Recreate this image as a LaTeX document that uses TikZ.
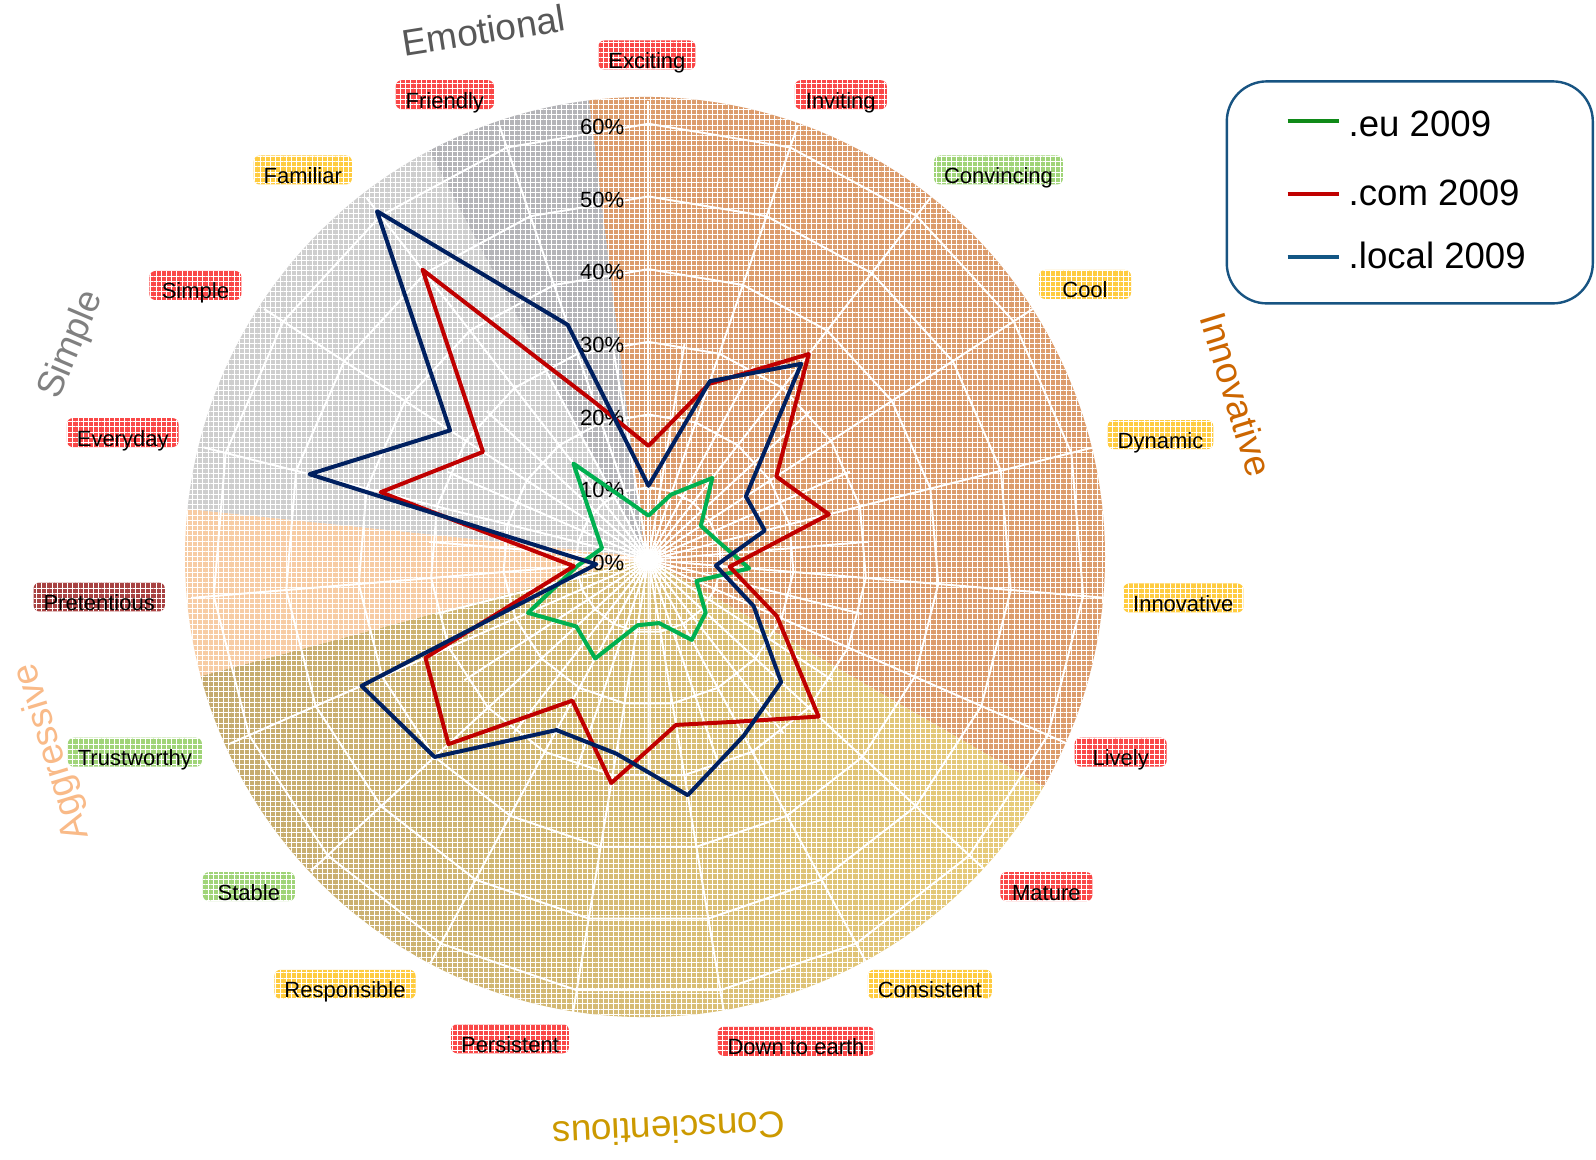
\documentclass[tikz,border=0pt]{standalone}
\usepackage{fontspec}
\setmainfont{Liberation Sans}
\usetikzlibrary{patterns.meta}

\definecolor{innovfill}{RGB}{220,156,108}
\definecolor{consleft}{RGB}{196,170,110}
\definecolor{consright}{RGB}{232,204,122}
\definecolor{aggrfill}{RGB}{247,204,164}
\definecolor{simplefill}{RGB}{206,206,206}
\definecolor{emofill}{RGB}{180,180,184}
\definecolor{tagred}{RGB}{250,72,72}
\definecolor{tagyellow}{RGB}{255,204,64}
\definecolor{taggreen}{RGB}{160,212,120}
\definecolor{tagdark}{RGB}{168,66,66}
\definecolor{eucol}{RGB}{0,176,80}
\definecolor{comcol}{RGB}{192,0,0}
\definecolor{localcol}{RGB}{0,32,96}
\definecolor{keygreen}{RGB}{16,138,24}
\definecolor{keyblue}{RGB}{18,86,132}
\definecolor{legendframe}{RGB}{24,84,130}
\definecolor{emotext}{RGB}{88,88,88}
\definecolor{simpletext}{RGB}{128,128,128}
\definecolor{aggrtext}{RGB}{249,186,136}
\definecolor{consctext}{RGB}{204,153,0}
\definecolor{innovtext}{RGB}{204,102,0}

\newcommand{\tagtext}[1]{\raisebox{-4pt}{#1}}
\newcommand{\catfont}{\fontsize{18.5}{18.5}\selectfont}

\tikzset{
	texture/.style={pattern={Hatch[distance=2.6pt,line width=0.5pt]}, pattern color=white, fill opacity=0.3},
	tagtexture/.style={pattern={Hatch[distance=2.6pt,line width=0.4pt]}, pattern color=white, fill opacity=0.15},
	gridline/.style={white, line width=1pt},
	series/.style={line width=2pt, line join=round},
	tag/.style={rounded corners=3pt, minimum width=46pt, minimum height=14.5pt, inner xsep=5pt, inner ysep=0pt, text height=10pt, text depth=4.5pt, font=\fontsize{11}{11}\selectfont, postaction={tagtexture}},
	pct/.style={anchor=east, inner sep=0pt, font=\fontsize{11}{11}\selectfont},
	keyline/.style={line width=2pt},
	keytext/.style={anchor=west, inner sep=0pt, text height=0.72em, text depth=0pt, font=\fontsize{18.3}{18.3}\selectfont},
	category/.style={inner sep=0pt, font=\catfont}
}

\begin{document}
\begin{tikzpicture}[x=0.5pt, y=0.5pt]
	\useasboundingbox (-648.5,-600) rectangle (947.5,560);
	\fill [white] (-648.5,-600) rectangle (947.5,560);

	\begin{scope}[shift={(-3.5,3)}]
		\fill [innovfill] (0,0) -- (97:460) arc [start angle=97, end angle=-30, radius=460] -- cycle;
		\shade [left color=consleft, right color=consright] (0,0) -- (-30:460) arc [start angle=-30, end angle=-165, radius=460] -- cycle;
		\fill [aggrfill] (0,0) -- (-165:460) arc [start angle=-165, end angle=-186, radius=460] -- cycle;
		\fill [simplefill] (0,0) -- (174:460) arc [start angle=174, end angle=118, radius=460] -- cycle;
		\fill [emofill] (0,0) -- (118:460) arc [start angle=118, end angle=97, radius=460] -- cycle;
		\fill [texture] (0,0) circle [radius=460];
	\end{scope}

	\foreach \k in {0,...,18}
		\draw [gridline] (0,0) -- ({90-18.947*\k}:459);
	\foreach \k in {0,...,18}
		\draw [gridline] (0,0) -- ({80.53-18.947*\k}:220);
	\foreach \r in {1,...,6}
		\draw [gridline] (90:{\r*72.7}) \foreach \k in {1,...,18} { -- ({90-18.947*\k}:{\r*72.7}) } -- cycle;

	\foreach \p in {0,10,...,60}
		\node [pct] (pct\p) at (-24,{\p*7.27-3}) {\p\%};

	\foreach \v [count=\k from 0] in {6.1,9.5,14.3,8.6,10,13.9,7.2,10.7,12.5,8.8,9.1,15.4,13.5,18.1,9.8,6.6,9,16.8,8.5}
		\coordinate (eu\k) at ({90-18.947*\k}:{\v*7.27});
	\foreach \v [count=\k from 0] in {15.7,25.6,35.9,21,25.6,11.2,19.3,31.8,25.3,23,31.1,22,37.4,33.5,10.3,38,27.2,50.6,23}
		\coordinate (com\k) at ({90-18.947*\k}:{\v*7.27});
	\foreach \v [count=\k from 0] in {10.2,26,34.2,16,16.5,9.3,15.8,24.8,27.5,32.8,27,26.6,40,43.1,7.2,48.1,32.6,60.8,34.2}
		\coordinate (local\k) at ({90-18.947*\k}:{\v*7.27});

	\draw [series, eucol] (eu0) \foreach \k in {1,...,18} { -- (eu\k) } -- cycle;
	\draw [series, comcol] (com0) \foreach \k in {1,...,18} { -- (com\k) } -- cycle;
	\draw [series, localcol] (local0) \foreach \k in {1,...,18} { -- (local\k) } -- cycle;

	\node [tag, fill=tagred] (exciting) at (-1.6,505) {\tagtext{Exciting}};
	\node [tag, fill=tagred] (inviting) at (192.3,465.3) {\tagtext{Inviting}};
	\node [tag, fill=taggreen] (convincing) at (350,390) {\tagtext{Convincing}};
	\node [tag, fill=tagyellow] (cool) at (436.5,275.5) {\tagtext{Cool}};
	\node [tag, fill=tagyellow] (dynamic) at (512,125.4) {\tagtext{Dynamic}};
	\node [tag, fill=tagyellow] (innovative) at (534.8,-38) {\tagtext{Innovative}};
	\node [tag, fill=tagred] (lively) at (472.2,-192.2) {\tagtext{Lively}};
	\node [tag, fill=tagred] (mature) at (397.9,-326.6) {\tagtext{Mature}};
	\node [tag, fill=tagyellow] (consistent) at (281.3,-424.3) {\tagtext{Consistent}};
	\node [tag, fill=tagred] (downtoearth) at (147.5,-481.3) {\tagtext{Down to earth}};
	\node [tag, fill=tagred] (persistent) at (-138.5,-478.8) {\tagtext{Persistent}};
	\node [tag, fill=tagyellow] (responsible) at (-303.5,-424.3) {\tagtext{Responsible}};
	\node [tag, fill=taggreen] (stable) at (-399.6,-326.6) {\tagtext{Stable}};
	\node [tag, fill=taggreen] (trustworthy) at (-513.6,-192.2) {\tagtext{Trustworthy}};
	\node [tag, fill=tagdark] (pretentious) at (-549.3,-37) {\tagtext{Pretentious}};
	\node [tag, fill=tagred] (everyday) at (-525.8,127.4) {\tagtext{Everyday}};
	\node [tag, fill=tagred] (simple) at (-453.1,274.5) {\tagtext{Simple}};
	\node [tag, fill=tagyellow] (familiar) at (-345.7,390) {\tagtext{Familiar}};
	\node [tag, fill=tagred] (friendly) at (-203.7,465.3) {\tagtext{Friendly}};

	\node [category, rotate=9, text=emotext] (emotional) at (-165,529.5) {Emotional};
	\node [category, rotate=67, text=simpletext] (simplecat) at (-576.8,215) {Simple};
	\node [category, rotate=107, text=aggrtext] (aggressive) at (-596,-191.7) {Aggressive};
	\node [category, rotate=182.5, text=consctext] (conscientious) at (20.3,-570) {Conscientious};
	\node [category, rotate=-73, text=innovtext] (innovcat) at (588.2,165.8) {Innovative};

	\node [draw=legendframe, line width=1.2pt, rounded corners=20pt, minimum width=183pt, minimum height=111pt] (legend) at (761.3,367.6) {};
	\draw [keyline, keygreen] (639,439.3) -- (690,439.3);
	\draw [keyline, comcol] (639,366) -- (690,366);
	\draw [keyline, keyblue] (639,302.7) -- (690,302.7);
	\node [keytext] (eukey) at (699.8,430.5) {.eu 2009};
	\node [keytext] (comkey) at (699.8,362) {.com 2009};
	\node [keytext] (localkey) at (699.8,299) {.local 2009};
\end{tikzpicture}
\end{document}
